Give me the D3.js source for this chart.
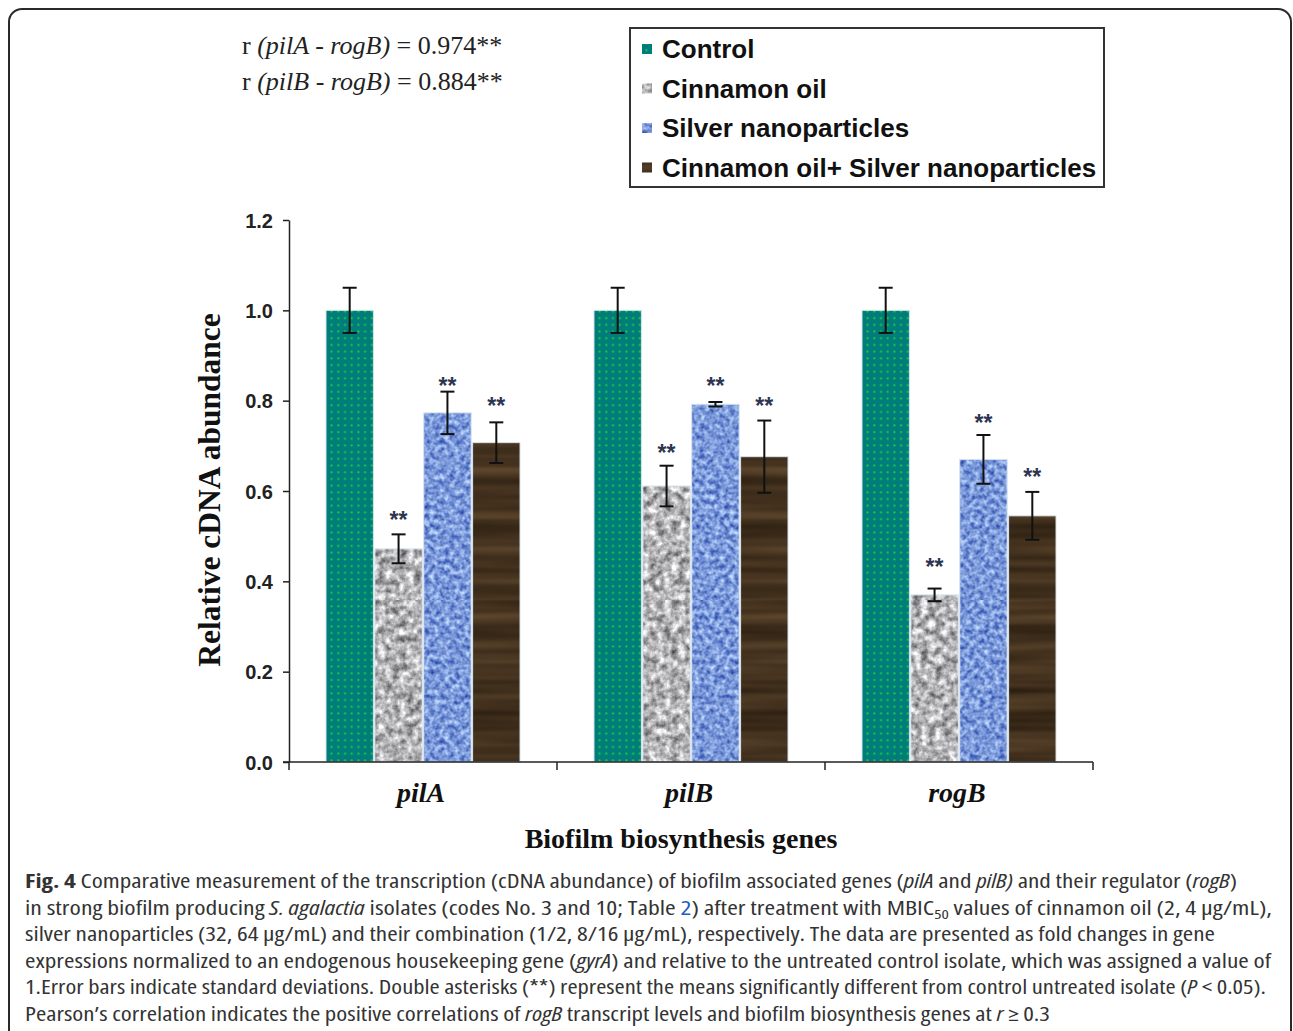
<!DOCTYPE html>
<html><head><meta charset="utf-8">
<script src="https://cdn.jsdelivr.net/npm/d3@7"></script>
<style>html,body{margin:0;padding:0;background:#fff;} svg{display:block;}</style>
</head><body>
<script>
// ---- data ----
const categories = ["pilA", "pilB", "rogB"];
const seriesNames = ["Control", "Cinnamon oil", "Silver nanoparticles", "Cinnamon oil+ Silver nanoparticles"];
const controlValues  = [1.000, 1.000, 1.000];
const controlErrors  = [0.050, 0.050, 0.050];
const cinnamonValues = [0.472, 0.611, 0.370];
const cinnamonErrors = [0.032, 0.045, 0.014];
const silverValues   = [0.773, 0.792, 0.670];
const silverErrors   = [0.047, 0.005, 0.054];
const comboValues    = [0.707, 0.676, 0.545];
const comboErrors    = [0.045, 0.080, 0.053];
// level (in axis units) of the "**" significance marks
const cinnamonStars  = [0.540, 0.689, 0.436];
const silverStars    = [0.837, 0.837, 0.755];
const comboStars     = [0.793, 0.793, 0.635];
const yTicks = [0.0, 0.2, 0.4, 0.6, 0.8, 1.0, 1.2];
const correlations = [["pilA - rogB", "0.974**"], ["pilB - rogB", "0.884**"]];

const allValues = [controlValues, cinnamonValues, silverValues, comboValues];
const allErrors = [controlErrors, cinnamonErrors, silverErrors, comboErrors];
const allStars  = [null, cinnamonStars, silverStars, comboStars];

const W = 1293, H = 1031;
const svg = d3.select("body").append("svg").attr("width", W).attr("height", H);
const defs = svg.append("defs");

// ---- textures ----
function noiseFilter(id, freq, oct, seed, m) {
  const f = defs.append("filter").attr("id", id).attr("filterUnits", "userSpaceOnUse")
    .attr("x", 0).attr("y", 0).attr("width", 300).attr("height", 300)
    .attr("color-interpolation-filters", "sRGB");
  f.append("feTurbulence").attr("type", "fractalNoise").attr("baseFrequency", freq).attr("numOctaves", oct).attr("seed", seed);
  f.append("feColorMatrix").attr("type", "matrix").attr("values", m);
}
noiseFilter("fGray", "0.14", 3, 4,
  "1.05 0 0 0 0.18  1.05 0 0 0 0.18  1.05 0 0 0 0.19  0 0 0 0 1");
noiseFilter("fBlue", "0.2", 2, 7,
  "0.9 0 0 0 0.03  0.85 0 0 0 0.17  0.5 0 0 0 0.6  0 0 0 0 1");
noiseFilter("fWood", "0.004 0.09", 2, 11,
  "0.3 0 0 0 0.11  0.24 0 0 0 0.07  0.17 0 0 0 0.03  0 0 0 0 1");

function noisePattern(id, filt) {
  const p = defs.append("pattern").attr("id", id).attr("patternUnits", "userSpaceOnUse")
    .attr("width", 300).attr("height", 300);
  p.append("rect").attr("width", 300).attr("height", 300).attr("filter", `url(#${filt})`);
}
noisePattern("pGray", "fGray");
noisePattern("pBlue", "fBlue");
noisePattern("pWood", "fWood");

const pDots = defs.append("pattern").attr("id", "pDots").attr("patternUnits", "userSpaceOnUse")
  .attr("width", 6.7).attr("height", 6.7);
pDots.append("rect").attr("width", 6.7).attr("height", 6.7).attr("fill", "#007d7b");
pDots.append("circle").attr("cx", 3.3).attr("cy", 3.3).attr("r", 1.1).attr("fill", "#19d43a");

const fills = ["url(#pDots)", "url(#pGray)", "url(#pBlue)", "url(#pWood)"];

// ---- frame ----
svg.append("rect").attr("x", 9).attr("y", 9).attr("width", 1282).attr("height", 1100).attr("rx", 13)
  .attr("fill", "none").attr("stroke", "#2a2a2a").attr("stroke-width", 2);

// ---- scales ----
const y = d3.scaleLinear().domain([0, 1.2]).range([762, 220]);
const x0 = d3.scaleBand().domain(categories).range([289, 1093]).paddingInner(0.276).paddingOuter(0.138);
const x1 = d3.scaleBand().domain(seriesNames).range([0, x0.bandwidth()]).paddingInner(0.03);

// ---- bars ----
const g = svg.append("g");
categories.forEach((c, ci) => {
  seriesNames.forEach((s, si) => {
    const v = allValues[si][ci], e = allErrors[si][ci];
    const bx = x0(c) + x1(s), bw = x1.bandwidth();
    g.append("rect").attr("x", bx).attr("y", y(v)).attr("width", bw).attr("height", y(0) - y(v))
      .attr("fill", fills[si]).attr("stroke", "#d6e4ee").attr("stroke-width", 1);
    const cx = bx + bw / 2;
    g.append("line").attr("x1", cx).attr("x2", cx).attr("y1", y(v + e)).attr("y2", y(v - e))
      .attr("stroke", "#111").attr("stroke-width", 2);
    [v + e, v - e].forEach(t => g.append("line").attr("x1", cx - 7).attr("x2", cx + 7)
      .attr("y1", y(t)).attr("y2", y(t)).attr("stroke", "#111").attr("stroke-width", 2));
    if (allStars[si]) {
      g.append("text").attr("x", cx).attr("y", y(allStars[si][ci]) + 10).attr("text-anchor", "middle")
        .attr("font-family", "Liberation Sans, Arial, sans-serif").attr("font-weight", "bold")
        .attr("font-size", 23).attr("fill", "#2d3550").text("**");
    }
  });
});

// ---- axes ----
const yAxis = d3.axisLeft(y).tickValues(yTicks).tickFormat(d3.format(".1f")).tickSize(6).tickSizeOuter(0);
const ya = svg.append("g").attr("transform", "translate(289,0)").call(yAxis);
ya.select(".domain").attr("stroke", "#222").attr("stroke-width", 1.5);
ya.selectAll(".tick line").attr("stroke", "#222").attr("stroke-width", 1.5);
ya.selectAll(".tick text").attr("x", -16).attr("dy", "0.36em")
  .attr("font-family", "Liberation Sans, Arial, sans-serif").attr("font-weight", "bold")
  .attr("font-size", 20).attr("fill", "#222");

const xa = svg.append("g").attr("transform", "translate(0,762)");
xa.append("line").attr("x1", 283).attr("x2", 1093).attr("y1", 0).attr("y2", 0).attr("stroke", "#222").attr("stroke-width", 1.5);
const edges = categories.map(c => x0(c) - x0.step() * 0.138).concat([1093]);
edges.forEach(ex => xa.append("line").attr("x1", ex).attr("x2", ex).attr("y1", 0).attr("y2", 8)
  .attr("stroke", "#222").attr("stroke-width", 1.5));
categories.forEach(c => {
  xa.append("text").attr("x", x0(c) + x0.bandwidth() / 2 - 2).attr("y", 40).attr("text-anchor", "middle")
    .attr("font-family", "Liberation Serif, Times New Roman, serif").attr("font-weight", "bold")
    .attr("font-style", "italic").attr("font-size", 28).attr("fill", "#111").text(c);
});

svg.append("text").attr("x", 681).attr("y", 848).attr("text-anchor", "middle")
  .attr("font-family", "Liberation Serif, Times New Roman, serif").attr("font-weight", "bold")
  .attr("font-size", 28).attr("fill", "#111").text("Biofilm biosynthesis genes");

svg.append("text").attr("transform", "translate(220,490) rotate(-90)").attr("text-anchor", "middle")
  .attr("font-family", "Liberation Serif, Times New Roman, serif").attr("font-weight", "bold")
  .attr("font-size", 31.5).attr("fill", "#111").text("Relative cDNA abundance");

// ---- correlation text ----
correlations.forEach((r, i) => {
  const t = svg.append("text").attr("x", 242).attr("y", 54 + i * 36)
    .attr("font-family", "Liberation Serif, Times New Roman, serif").attr("font-size", 26).attr("fill", "#222");
  t.append("tspan").text("r ");
  t.append("tspan").attr("font-style", "italic").text("(" + r[0] + ")");
  t.append("tspan").text(" = " + r[1]);
});

// ---- legend ----
const lg = svg.append("g");
lg.append("rect").attr("x", 630).attr("y", 28).attr("width", 474).attr("height", 159)
  .attr("fill", "#fff").attr("stroke", "#333").attr("stroke-width", 2);
seriesNames.forEach((s, i) => {
  const cy = 49 + i * 39.5;
  lg.append("rect").attr("x", 642).attr("y", cy - 5).attr("width", 10).attr("height", 10).attr("fill", fills[i]);
  lg.append("text").attr("x", 662).attr("y", cy + 9).attr("font-family", "Liberation Sans, Arial, sans-serif")
    .attr("font-weight", "bold").attr("font-size", 26).attr("fill", "#111").text(s);
});

// ---- caption ----
const captionLines = [
  [[ "Fig. 4", "b"], [" Comparative measurement of the transcription (cDNA abundance) of biofilm associated genes ("], ["pilA", "i"], [" and "], ["pilB)", "i"], [" and their regulator ("], ["rogB", "i"], [")"]],
  [["in strong biofilm producing "], ["S. agalactia", "i"], [" isolates (codes No. 3 and 10; Table "], ["2", "link"], [") after treatment with MBIC"], ["50", "sub"], [" values of cinnamon oil (2, 4 μg/mL),", "afterSub"]],
  [["silver nanoparticles (32, 64 μg/mL) and their combination (1/2, 8/16 μg/mL), respectively. The data are presented as fold changes in gene"]],
  [["expressions normalized to an endogenous housekeeping gene ("], ["gyrA", "i"], [") and relative to the untreated control isolate, which was assigned a value of"]],
  [["1.Error bars indicate standard deviations. Double asterisks (**) represent the means significantly different from control untreated isolate ("], ["P", "i"], [" < 0.05)."]],
  [["Pearson’s correlation indicates the positive correlations of "], ["rogB", "i"], [" transcript levels and biofilm biosynthesis genes at "], ["r", "i"], [" ≥ 0.3"]]
];
const captionWidths = [1212, 1247, 1190, 1246, 1241, 1025];
captionLines.forEach((segs, li) => {
  const t = svg.append("text").attr("x", 25).attr("y", 888 + li * 26.6)
    .attr("font-family", "Open Sans, sans-serif").attr("font-stretch", "condensed").attr("font-size", 19.5)
    .attr("fill", "#333").attr("textLength", captionWidths[li]).attr("lengthAdjust", "spacingAndGlyphs");
  segs.forEach(([txt, st]) => {
    const ts = t.append("tspan").text(txt);
    if (st === "b") ts.attr("font-weight", "bold");
    if (st === "i") ts.attr("font-style", "italic");
    if (st === "link") ts.attr("fill", "#1f5fbf");
    if (st === "sub") ts.attr("font-size", 13).attr("dy", 4);
    if (st === "afterSub") ts.attr("dy", -4);
  });
});
</script>
</body></html>
